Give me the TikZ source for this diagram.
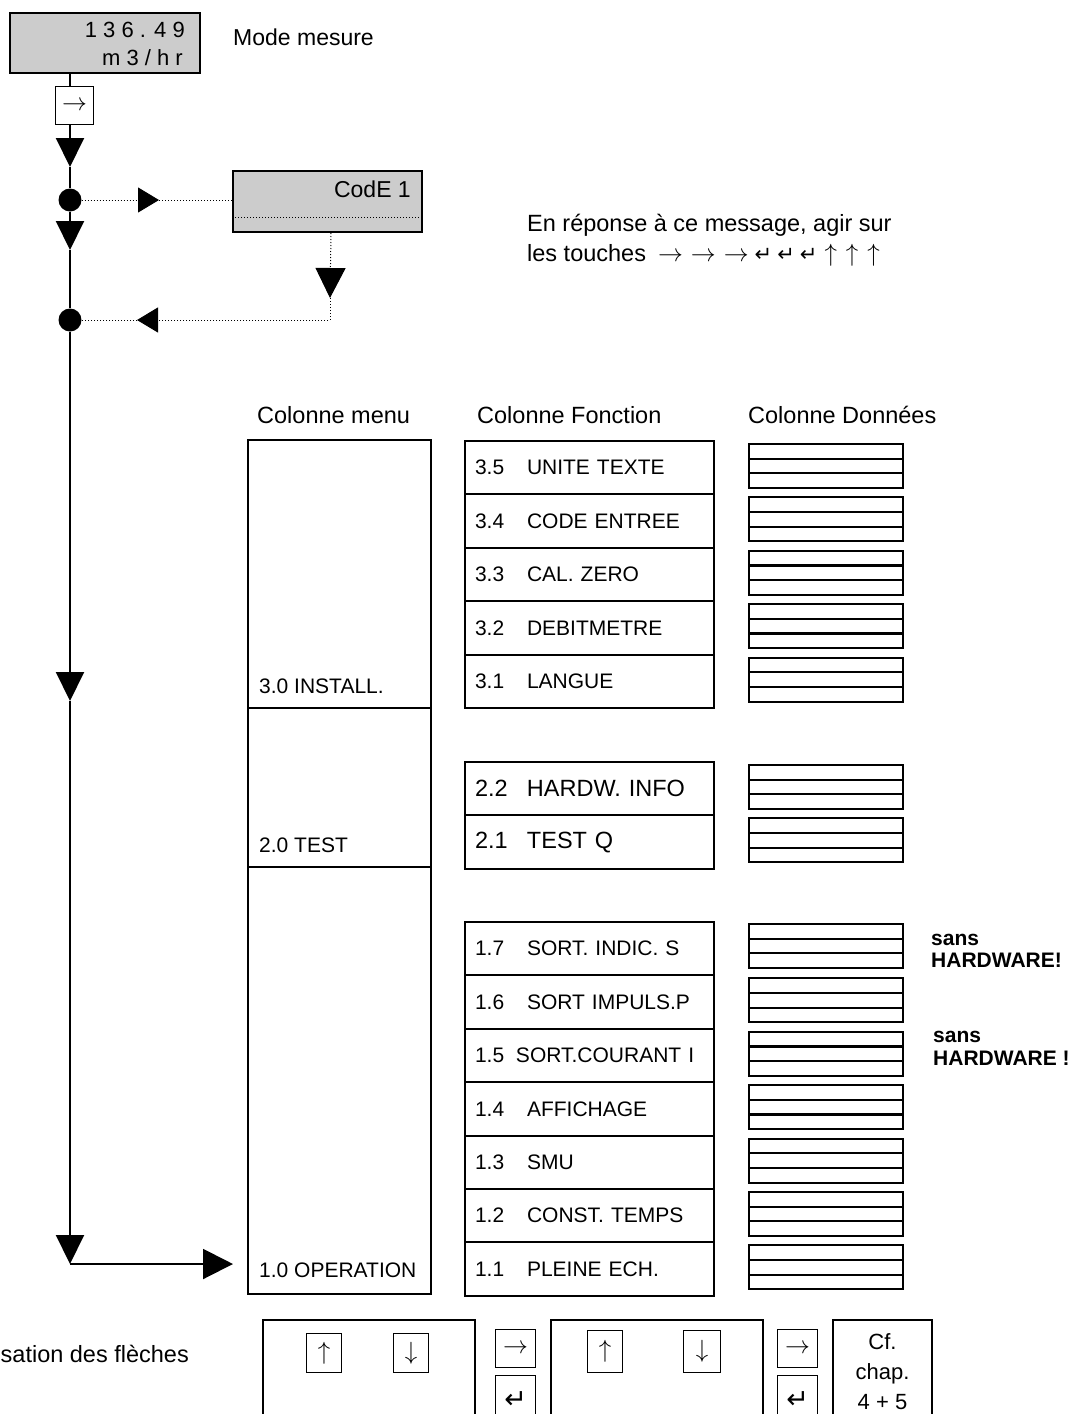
\documentclass[tikz,border=0pt]{standalone}
\usepackage{fontspec}
\setmainfont{Liberation Sans}
\newfontfamily\symfont{DejaVu Sans}
\usepackage{tikz}
\usetikzlibrary{positioning, calc, arrows.meta}

\definecolor{lcdgray}{RGB}{204,204,204}
\newcommand{\fsz}[2]{\fontsize{#1pt}{#2pt}\selectfont}
\newcommand{\fnum}[1]{\makebox[52pt][l]{#1}}
\newcommand{\retkey}{{\symfont ↵}}

\begin{document}
\begin{tikzpicture}[x=1pt, y=-1pt]
		%			\tikzstyle{lcd}=[draw=black, line width=2pt, fill=black!20]
		\tikzstyle{lcd}=[draw=black, line width=2pt, fill=lcdgray, inner sep=0pt, anchor=north west]
		\tikzstyle{keybox}=[draw=black, line width=1.3pt, inner sep=0pt, anchor=north west, font=\fsz{26}{26}]
		\tikzstyle{menubox}=[draw=black, line width=2pt, outer sep=0pt, minimum width=183pt, anchor=north west]
		\tikzstyle{menutxt}=[anchor=base west, inner sep=0pt, font=\fsz{21}{24}]
		\tikzstyle{fctrow}=[draw=black, line width=2pt, outer sep=0pt, minimum width=249pt, minimum height=53.4pt, text width=229pt, inner xsep=10pt, inner ysep=0pt, align=left, font=\fsz{21}{24}]
		\tikzstyle{datastack}=[draw=black, line width=2pt, minimum width=154pt, minimum height=44pt, inner sep=0pt, anchor=north west,
			path picture={
				\draw[line width=2.2pt] ($(path picture bounding box.north west)!0.333!(path picture bounding box.south west)$) -- ($(path picture bounding box.north east)!0.333!(path picture bounding box.south east)$);
				\draw[line width=2.2pt] ($(path picture bounding box.north west)!0.667!(path picture bounding box.south west)$) -- ($(path picture bounding box.north east)!0.667!(path picture bounding box.south east)$);
			}]
		\tikzstyle{txt}=[anchor=base west, inner sep=0pt, font=\fsz{23}{27}]
		\tikzstyle{colhead}=[txt, font=\fsz{23.5}{28}]
		\tikzstyle{warn}=[anchor=base west, inner sep=0pt, font=\bfseries\fsz{21}{24}]
		\tikzstyle{panel}=[draw=black, line width=1.3pt, outer sep=0pt, minimum height=140pt, anchor=north west]
		\tikzstyle{bullet}=[circle, fill=black, minimum size=23pt, inner sep=0pt]
		\tikzstyle{trunkline}=[line width=2pt]
		\tikzstyle{dotline}=[line width=1pt, dotted]
		\tikzstyle{tribig}=[-{Triangle[length=29pt, width=28pt]}]
		\tikzstyle{trismall}=[-{Triangle[length=21pt, width=25pt]}]

		\useasboundingbox (0,0) rectangle (1084,1414);
		\clip (0,0) rectangle (1084,1414);

		% display and code entry
		\node[lcd, minimum width=190pt, minimum height=60pt] (disp) at (9,12) {};
		\node[txt, anchor=base east, font=\fsz{22}{26}] (dispval) at (185,37) {1 3 6 . 4 9};
		\node[txt, anchor=base east, font=\fsz{22}{26}] (dispunit) at (183,65) {m 3 / h r};
		\node[txt] (mode) at (233,45) {Mode mesure};
		\node[keybox, minimum width=38pt, minimum height=38pt] (arrkey) at (55,86) {$\rightarrow$};

		\node[lcd, minimum width=189pt, minimum height=61pt] (code) at (232,170) {};
		\node[txt, anchor=base east] (codetxt) at (411,197) {CodE 1};
		\draw[dotline] ([yshift=-15.5pt]code.west) -- ([yshift=-15.5pt]code.east);

		\node[txt, font=\fsz{23.5}{28}] (hint1) at (527,231) {En réponse à ce message, agir sur};
		\node[txt, font=\fsz{23.5}{28}] (hint2) at (527,261) {les touches\hspace{12pt}$\rightarrow$\hspace{8pt}$\rightarrow$\hspace{8pt}$\rightarrow$\hspace{6pt}{\fsz{21}{21}\retkey\hspace{5pt}\retkey\hspace{5pt}\retkey}\hspace{7pt}$\uparrow$\hspace{9pt}$\uparrow$\hspace{9pt}$\uparrow$};

		% trunk
		\coordinate (trunk) at (70,0);
		\coordinate (tip1) at (70,167);
		\node[bullet] (dot1) at (70,200) {};
		\coordinate (tip2) at (70,250);
		\node[bullet] (dot2) at (70,320) {};
		\coordinate (tip3) at (70,701);
		\coordinate (corner) at (70,1264);

		% columns
		\node[colhead] (hmenu) at (257,423) {Colonne menu};
		\node[colhead] (hfct) at (477,423) {Colonne Fonction};
		\node[colhead] (hdata) at (748,423) {Colonne Données};

		\node[menubox, minimum height=268pt] (menu3) at (248,440) {};
		\node[menubox, minimum height=159pt, below=0pt of menu3] (menu2) {};
		\node[menubox, minimum height=427pt, below=0pt of menu2] (menu1) {};
		\node[menutxt] (m3) at (259,693) {3.0 INSTALL.};
		\node[menutxt] (m2) at (259,852) {2.0 TEST};
		\node[menutxt] (m1) at (259,1277) {1.0 OPERATION};

		\node[fctrow, anchor=north west] (f35) at (465,441) {\fnum{3.5}UNITE TEXTE};
		\node[fctrow, below=0pt of f35] (f34) {\fnum{3.4}CODE ENTREE};
		\node[fctrow, below=0pt of f34] (f33) {\fnum{3.3}CAL. ZERO};
		\node[fctrow, below=0pt of f33] (f32) {\fnum{3.2}DEBITMETRE};
		\node[fctrow, below=0pt of f32] (f31) {\fnum{3.1}LANGUE};

		\node[fctrow, anchor=north west, font=\fsz{23.5}{27}] (f22) at (465,762) {\fnum{2.2}HARDW. INFO};
		\node[fctrow, below=0pt of f22, font=\fsz{23.5}{27}] (f21) {\fnum{2.1}TEST Q};

		\node[fctrow, anchor=north west] (f17) at (465,922) {\fnum{1.7}SORT. INDIC. S};
		\node[fctrow, below=0pt of f17] (f16) {\fnum{1.6}SORT IMPULS.P};
		\node[fctrow, below=0pt of f16] (f15) {\makebox[41pt][l]{1.5}SORT.COURANT I};
		\node[fctrow, below=0pt of f15] (f14) {\fnum{1.4}AFFICHAGE};
		\node[fctrow, below=0pt of f14] (f13) {\fnum{1.3}SMU};
		\node[fctrow, below=0pt of f13] (f12) {\fnum{1.2}CONST. TEMPS};
		\node[fctrow, below=0pt of f12] (f11) {\fnum{1.1}PLEINE ECH.};

		\node[datastack] (d35) at ([xshift=34pt,yshift=-2pt]f35.north east) {};
		\node[datastack] (d34) at ([xshift=34pt,yshift=-2pt]f34.north east) {};
		\node[datastack] (d33) at ([xshift=34pt,yshift=-2pt]f33.north east) {};
		\node[datastack] (d32) at ([xshift=34pt,yshift=-2pt]f32.north east) {};
		\node[datastack] (d31) at ([xshift=34pt,yshift=-2pt]f31.north east) {};
		\node[datastack] (d22) at ([xshift=34pt,yshift=-2pt]f22.north east) {};
		\node[datastack] (d21) at ([xshift=34pt,yshift=-2pt]f21.north east) {};
		\node[datastack] (d17) at ([xshift=34pt,yshift=-1pt]f17.north east) {};
		\node[datastack] (d16) at ([xshift=34pt,yshift=-2pt]f16.north east) {};
		\node[datastack] (d15) at ([xshift=34pt,yshift=-2pt]f15.north east) {};
		\node[datastack] (d14) at ([xshift=34pt,yshift=-2pt]f14.north east) {};
		\node[datastack] (d13) at ([xshift=34pt,yshift=-2pt]f13.north east) {};
		\node[datastack] (d12) at ([xshift=34pt,yshift=-2pt]f12.north east) {};
		\node[datastack] (d11) at ([xshift=34pt,yshift=-2pt]f11.north east) {};

		\node[warn] (w17a) at (931,945) {sans};
		\node[warn] (w17b) at (931,967) {HARDWARE!};
		\node[warn] (w15a) at (933,1042) {sans};
		\node[warn] (w15b) at (933,1065) {HARDWARE !};

		% key legend
		\node[txt, anchor=base east, font=\fsz{23.5}{26}] (legend) at (189,1362) {sation des flèches};
		\node[panel, minimum width=212pt] (pan1) at (263,1320) {};
		\node[keybox, minimum width=35pt, minimum height=39pt] (up1) at (306,1333) {$\uparrow$};
		\node[keybox, minimum width=35pt, minimum height=39pt] (down1) at (393,1333) {$\downarrow$};
		\node[keybox, minimum width=40pt, minimum height=38pt] (right1) at (495,1329) {$\rightarrow$};
		\node[keybox, minimum width=40pt, minimum height=48pt, font=\fsz{27}{27}] (ret1) at (495,1375) {\retkey};
		\node[panel, minimum width=212pt] (pan2) at (551,1320) {};
		\node[keybox, minimum width=35pt, minimum height=42pt] (up2) at (587,1330) {$\uparrow$};
		\node[keybox, minimum width=37pt, minimum height=42pt] (down2) at (683,1330) {$\downarrow$};
		\node[keybox, minimum width=40pt, minimum height=38pt] (right2) at (777,1329) {$\rightarrow$};
		\node[keybox, minimum width=40pt, minimum height=48pt, font=\fsz{27}{27}] (ret2) at (777,1375) {\retkey};
		\node[panel, minimum width=99pt] (cfbox) at (833,1320) {};
		\node[txt, anchor=base, font=\fsz{22}{26}] (cf1) at (882.5,1349) {Cf.};
		\node[txt, anchor=base, font=\fsz{22}{26}] (cf2) at (882.5,1379) {chap.};
		\node[txt, anchor=base, font=\fsz{22}{26}] (cf3) at (882.5,1409) {4 + 5};

		% connectors
		\draw[trunkline] (disp.south -| trunk) -- (arrkey.north -| trunk);
		\draw[trunkline, tribig] (arrkey.south -| trunk) -- (tip1);
		\draw[trunkline] (tip1) -- (dot1);
		\draw[trunkline, tribig] (dot1) -- (tip2);
		\draw[trunkline] (tip2) -- (dot2);
		\draw[trunkline, tribig] (dot2) -- (tip3);
		\draw[trunkline, tribig] (tip3) -- (corner);
		\draw[trunkline, -{Triangle[length=30pt, width=30pt]}, shorten >=15pt] (corner) -- (corner -| menu1.west);

		\coordinate (tipr) at (159,200);
		\coordinate (tipd) at (330,298);
		\coordinate (tipl) at (137,320);
		\draw[dotline, trismall] (dot1) -- (tipr);
		\draw[dotline] (tipr) -- (tipr -| code.west);
		\draw[dotline, -{Triangle[length=30pt, width=30pt]}] ([xshift=3.5pt]code.south) -- (tipd);
		\draw[dotline, trismall] (tipd) |- (tipl);
		\draw[dotline] (tipl) -- (dot2);
\end{tikzpicture}
\end{document}
